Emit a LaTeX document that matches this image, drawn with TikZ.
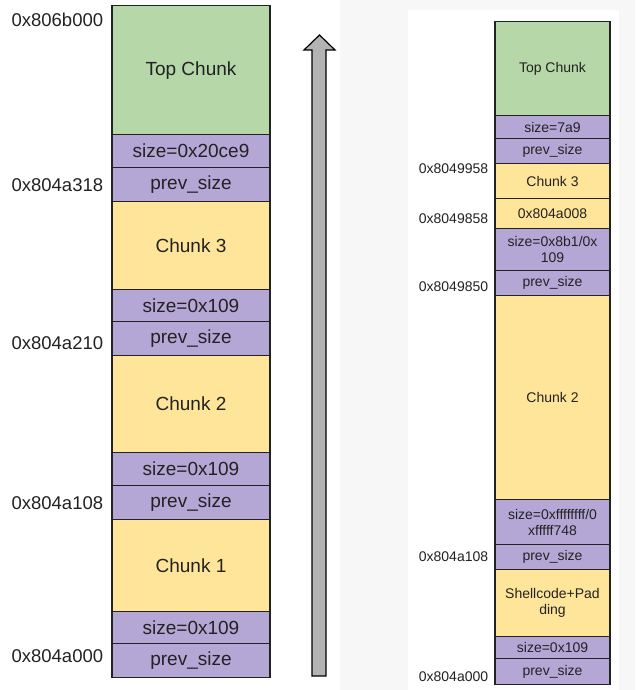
\documentclass[tikz,border=0pt]{standalone}
\usepackage{fontspec}
\setmainfont{Liberation Sans}
\usepackage{tikz}
\usetikzlibrary{positioning}
\definecolor{topgreen}{HTML}{B6D7A8}
\definecolor{chunkyellow}{HTML}{FFE599}
\definecolor{hdrpurple}{HTML}{B4A7D6}
\definecolor{arrowgray}{HTML}{B3B3B3}
\definecolor{panelgray}{HTML}{F7F7F7}
\definecolor{inkgray}{HTML}{222222}

\begin{document}
\begin{tikzpicture}[x=1pt,y=-1pt,
  cell/.style={draw=inkgray,line width=1.3pt,inner sep=0pt,anchor=north,align=center,text=inkgray},
  bigcell/.style={cell,minimum width=158pt,font=\fontsize{19}{22}\selectfont},
  smallcell/.style={cell,minimum width=115pt,font=\fontsize{14}{16}\selectfont},
  topc/.style={fill=topgreen},
  datac/.style={fill=chunkyellow},
  hdrc/.style={fill=hdrpurple},
  bigaddr/.style={font=\fontsize{18.5}{21}\selectfont,text=inkgray,inner sep=0pt},
  smalladdr/.style={font=\fontsize{14}{16}\selectfont,text=inkgray,inner sep=0pt}]
  \useasboundingbox (0,0) rectangle (635,690);
  % ---- background of the right panel ----
  \fill[panelgray] (340,0) rectangle (635,690);
  \fill[white] (408,10) rectangle (619,690);
  % ---- left: heap before the overflow ----
  \node[bigcell,topc,minimum height=129pt]  (lTop)    at (191,5)   {Top Chunk};
  \node[bigcell,hdrc,minimum height=33pt]   (lSize4)  at (191,134) {size=0x20ce9};
  \node[bigcell,hdrc,minimum height=34pt]   (lPrev4)  at (191,167) {prev\_size};
  \node[bigcell,datac,minimum height=88pt]  (lChunk3) at (191,201) {Chunk 3};
  \node[bigcell,hdrc,minimum height=32pt]   (lSize3)  at (191,289) {size=0x109};
  \node[bigcell,hdrc,minimum height=34pt]   (lPrev3)  at (191,321) {prev\_size};
  \node[bigcell,datac,minimum height=97pt]  (lChunk2) at (191,355) {Chunk 2};
  \node[bigcell,hdrc,minimum height=33pt]   (lSize2)  at (191,452) {size=0x109};
  \node[bigcell,hdrc,minimum height=34pt]   (lPrev2)  at (191,485) {prev\_size};
  \node[bigcell,datac,minimum height=92pt]  (lChunk1) at (191,519) {Chunk 1};
  \node[bigcell,hdrc,minimum height=32pt]   (lSize1)  at (191,611) {size=0x109};
  \node[bigcell,hdrc,minimum height=34pt]   (lPrev1)  at (191,643) {prev\_size};
  % addresses
  \node[bigaddr,below left=8pt and 8pt of lTop.north west] (lA1) {0x806b000};
  \node[bigaddr,left=8pt of lPrev4] (lA2) {0x804a318};
  \node[bigaddr,left=8pt of lPrev3,yshift=-4pt] (lA3) {0x804a210};
  \node[bigaddr,left=8pt of lPrev2] (lA4) {0x804a108};
  \node[bigaddr,left=8pt of lPrev1,yshift=5pt] (lA5) {0x804a000};
  % ---- middle: growth direction ----
  \filldraw[fill=arrowgray,draw=black,line width=1.2pt,line join=miter]
    (312,676) -- (312,50) -- (304,50) -- (319.5,35) -- (335,50) -- (326,50) -- (326,676) -- cycle;
  % ---- right: heap after the overflow ----
  \node[smallcell,topc,minimum height=94pt]  (rTop)    at (552.5,21)  {Top Chunk};
  \node[smallcell,hdrc,minimum height=23pt]  (rSize4)  at (552.5,115) {size=7a9};
  \node[smallcell,hdrc,minimum height=25pt]  (rPrev4)  at (552.5,138) {prev\_size};
  \node[smallcell,datac,minimum height=35pt] (rChunk3) at (552.5,163) {Chunk 3};
  \node[smallcell,datac,minimum height=30pt] (rFd)     at (552.5,198) {0x804a008};
  \node[smallcell,hdrc,minimum height=42pt]  (rSize3)  at (552.5,228) {size=0x8b1/0x\\109};
  \node[smallcell,hdrc,minimum height=25pt]  (rPrev3)  at (552.5,270) {prev\_size};
  \node[smallcell,datac,minimum height=204pt] (rChunk2) at (552.5,295) {Chunk 2};
  \node[smallcell,hdrc,minimum height=45pt]  (rSize2)  at (552.5,499) {size=0xffffffff/0\\xfffff748};
  \node[smallcell,hdrc,minimum height=25pt]  (rPrev2)  at (552.5,544) {prev\_size};
  \node[smallcell,datac,minimum height=67pt] (rShell)  at (552.5,569) {Shellcode+Pad\\ding};
  \node[smallcell,hdrc,minimum height=22pt]  (rSize1)  at (552.5,636) {size=0x109};
  \node[smallcell,hdrc,minimum height=26pt]  (rPrev1)  at (552.5,658) {prev\_size};
  % addresses
  \node[smalladdr,below left=1pt and 6pt of rChunk3.north west] (rA1) {0x8049958};
  \node[smalladdr,left=6pt of rFd,yshift=-5pt] (rA2) {0x8049858};
  \node[smalladdr,left=6pt of rPrev3,yshift=-4pt] (rA3) {0x8049850};
  \node[smalladdr,left=6pt of rPrev2] (rA4) {0x804a108};
  \node[smalladdr,left=6pt of rPrev1,yshift=-5pt] (rA5) {0x804a000};
\end{tikzpicture}
\end{document}
